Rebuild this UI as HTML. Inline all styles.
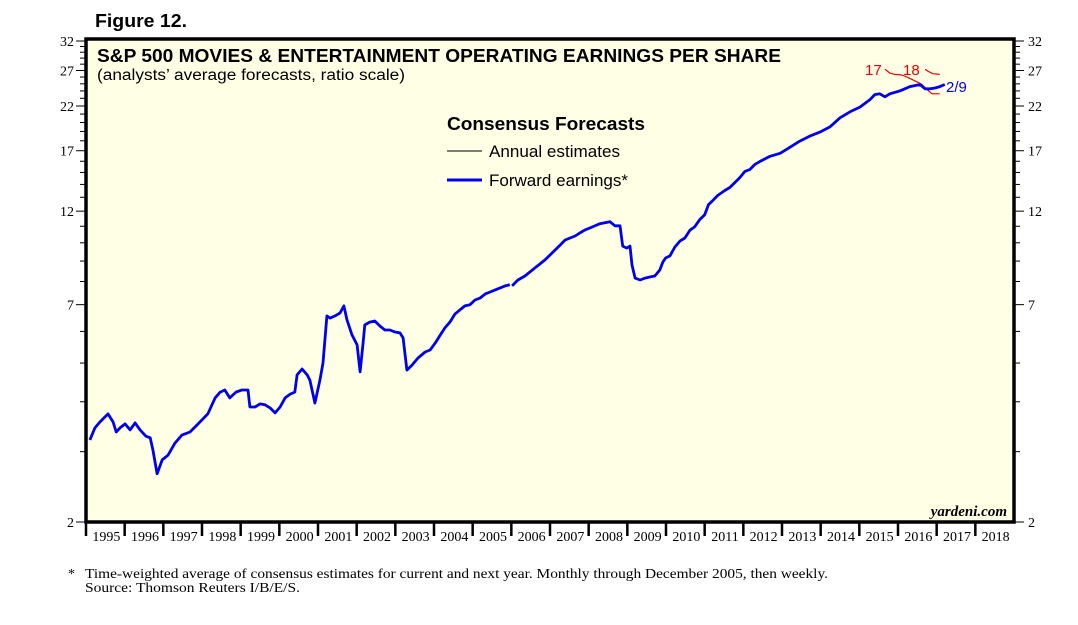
<!DOCTYPE html>
<html><head><meta charset="utf-8"><style>
body{margin:0;background:#fff;width:1078px;height:625px;overflow:hidden}
svg{display:block}
</style></head><body>
<svg id="chart" width="1078" height="625" font-family="Liberation Sans, sans-serif">
<text x="95" y="27" font-size="18" font-weight="bold" textLength="92" lengthAdjust="spacingAndGlyphs">Figure 12.</text>
<rect x="86" y="39" width="928" height="483" fill="#ffffe5"/>
<g id="ticks"></g>
<g id="series"></g>
<rect x="86" y="39" width="928" height="483" fill="none" stroke="#000" stroke-width="3.5"/>
<text x="97" y="62" font-size="18.5" font-weight="bold" textLength="684" lengthAdjust="spacingAndGlyphs">S&amp;P 500 MOVIES &amp; ENTERTAINMENT OPERATING EARNINGS PER SHARE</text>
<text x="97" y="80" font-size="15.5" textLength="308" lengthAdjust="spacingAndGlyphs">(analysts’ average forecasts, ratio scale)</text>
<text x="447" y="130" font-size="18" font-weight="bold" textLength="198" lengthAdjust="spacingAndGlyphs">Consensus Forecasts</text>
<line x1="447" y1="151" x2="482" y2="151" stroke="#000" stroke-width="1"/>
<text x="489" y="157" font-size="16.5" textLength="131" lengthAdjust="spacingAndGlyphs">Annual estimates</text>
<line x1="447" y1="180" x2="482" y2="180" stroke="#0000ee" stroke-width="3"/>
<text x="489" y="186" font-size="16.5" textLength="139" lengthAdjust="spacingAndGlyphs">Forward earnings*</text>
<text x="1007" y="516" font-size="15" font-style="italic" font-weight="bold" font-family="Liberation Serif, serif" text-anchor="end">yardeni.com</text>
<text x="865" y="75" font-size="15" fill="#e00">17</text>
<text x="903" y="75" font-size="15" fill="#e00">18</text>
<text x="946" y="92" font-size="15" fill="#0000ee">2/9</text>
<text x="68" y="578" font-size="14" font-family="Liberation Serif, serif">*</text>
<text x="85" y="578" font-size="14" font-family="Liberation Serif, serif" textLength="743" lengthAdjust="spacingAndGlyphs">Time-weighted average of consensus estimates for current and next year. Monthly through December 2005, then weekly.</text>
<text x="85" y="592" font-size="14" font-family="Liberation Serif, serif" textLength="215" lengthAdjust="spacingAndGlyphs">Source: Thomson Reuters I/B/E/S.</text>
</svg>
<script>
const yTickLabels=[2,7,12,17,22,27,32];
const yearLabels=[1995,1996,1997,1998,1999,2000,2001,2002,2003,2004,2005,2006,2007,2008,2009,2010,2011,2012,2013,2014,2015,2016,2017,2018];
const fwdMonthlyYears=[1995.10,1995.23,1995.36,1995.57,1995.70,1995.78,1995.88,1996.01,1996.14,1996.27,1996.40,1996.55,1996.66,1996.73,1996.84,1996.97,1997.12,1997.30,1997.48,1997.69,1997.90,1998.15,1998.34,1998.47,1998.59,1998.72,1998.88,1999.03,1999.19,1999.24,1999.37,1999.50,1999.63,1999.76,1999.89,2000.02,2000.15,2000.28,2000.40,2000.46,2000.59,2000.72,2000.79,2000.92,2001.05,2001.13,2001.23,2001.31,2001.44,2001.57,2001.67,2001.75,2001.88,2002.01,2002.09,2002.16,2002.21,2002.34,2002.47,2002.60,2002.73,2002.86,2002.99,2003.12,2003.20,2003.30,2003.43,2003.59,2003.77,2003.90,2004.03,2004.15,2004.28,2004.41,2004.54,2004.67,2004.80,2004.93,2005.06,2005.19,2005.32,2005.45,2005.58,2005.71,2005.84,2005.96];
const fwdMonthlyValues=[3.21,3.44,3.56,3.73,3.56,3.36,3.44,3.52,3.40,3.54,3.40,3.28,3.25,3.03,2.64,2.86,2.94,3.15,3.30,3.36,3.52,3.73,4.09,4.23,4.28,4.09,4.23,4.28,4.28,3.88,3.88,3.95,3.93,3.86,3.75,3.88,4.09,4.18,4.23,4.67,4.83,4.67,4.53,3.97,4.53,5.00,6.56,6.48,6.56,6.67,6.95,6.41,5.88,5.55,4.75,5.55,6.23,6.33,6.37,6.19,6.05,6.05,5.98,5.95,5.78,4.80,4.94,5.15,5.33,5.39,5.61,5.85,6.12,6.33,6.63,6.79,6.95,7.00,7.19,7.27,7.44,7.53,7.62,7.71,7.80,7.85];
const fwdWeeklyYears=[2006.02,2006.17,2006.35,2006.48,2006.61,2006.74,2006.87,2007.00,2007.13,2007.26,2007.39,2007.52,2007.65,2007.77,2007.90,2008.03,2008.29,2008.55,2008.68,2008.81,2008.88,2008.99,2009.07,2009.12,2009.20,2009.33,2009.46,2009.58,2009.71,2009.84,2009.92,2009.99,2010.10,2010.23,2010.36,2010.49,2010.62,2010.74,2010.87,2011.00,2011.10,2011.19,2011.34,2011.52,2011.65,2011.78,2011.91,2012.04,2012.17,2012.30,2012.43,2012.69,2012.95,2013.21,2013.46,2013.72,2013.98,2014.24,2014.50,2014.76,2015.02,2015.27,2015.40,2015.53,2015.66,2015.79,2016.05,2016.31,2016.57,2016.70,2016.83,2016.96,2017.08,2017.21];
const fwdWeeklyValues=[7.80,8.07,8.26,8.45,8.65,8.85,9.06,9.32,9.59,9.87,10.16,10.28,10.40,10.58,10.76,10.89,11.16,11.29,11.03,11.03,9.81,9.70,9.81,8.80,8.16,8.07,8.16,8.21,8.26,8.55,8.95,9.16,9.27,9.76,10.10,10.28,10.76,10.96,11.42,11.76,12.46,12.70,13.14,13.52,13.75,14.15,14.57,15.09,15.26,15.71,15.99,16.46,16.75,17.35,17.97,18.50,18.93,19.50,20.55,21.28,21.87,22.8,23.5,23.6,23.2,23.6,24.0,24.6,24.9,24.3,24.3,24.4,24.6,24.9];
const est17Years=[2015.66,2015.79,2015.92,2016.10,2016.31,2016.52,2016.62,2016.75,2016.88,2017.08];
const est17Values=[27.2,26.6,26.4,26.3,25.8,25.2,24.9,24.2,23.6,23.6];
const est18Years=[2016.70,2016.77,2016.90,2017.08];
const est18Values=[27.2,26.9,26.5,26.4];

const L=86,R=1014,T=41,B=522,X0=1995,X1=2019,VMIN=2,VMAX=32;
const xs=t=>L+(t-X0)/(X1-X0)*(R-L);
const ys=v=>B-(Math.log(v)-Math.log(VMIN))/(Math.log(VMAX)-Math.log(VMIN))*(B-T);
const NS='http://www.w3.org/2000/svg';
const tg=document.getElementById('ticks'),sg=document.getElementById('series');
function mk(tag,attrs,parent){const e=document.createElementNS(NS,tag);for(const k in attrs)e.setAttribute(k,attrs[k]);parent.appendChild(e);return e;}
for(let v=VMIN;v<=VMAX;v++){
  const y=ys(v),major=yTickLabels.includes(v);
  const a=mk('line',{x1:major?76:80,x2:L,y1:y,y2:y,stroke:'#000','stroke-width':1},tg);
  
  
  const b=mk('line',{x1:R,x2:major?1024:1020,y1:y,y2:y,stroke:'#000','stroke-width':1},tg);
  
  
}
yTickLabels.forEach(v=>{
  const y=ys(v);
  const a=mk('text',{x:74,y:y+5,'text-anchor':'end','font-size':14,'font-family':'Liberation Serif, serif'},tg);
  a.textContent=v;
  
  
  const b=mk('text',{x:1028,y:y+5,'font-size':14,'font-family':'Liberation Serif, serif'},tg);
  b.textContent=v;
  
  
});
yearLabels.forEach(yr=>{
  const x=xs(yr);
  const t=mk('line',{x1:x,x2:x,y1:B,y2:B+14,stroke:'#000','stroke-width':2.5},tg);
  
  
  const l=mk('text',{x:xs(yr+0.5)+1,y:541,'text-anchor':'middle','font-size':14,'font-family':'Liberation Serif, serif'},tg);
  l.textContent=yr;
  
  
});
function line(xsA,vsA,color,w,name){
  const d=xsA.map((t,i)=>(i?'L':'M')+xs(t).toFixed(1)+','+ys(vsA[i]).toFixed(1)).join(' ');
  const p=mk('path',{d:d,fill:'none',stroke:color,'stroke-width':w,'stroke-linejoin':'round'},sg);
  
  
}
line(est17Years,est17Values,'#e00',1.2,'annual-estimate-2017');
line(est18Years,est18Values,'#e00',1.2,'annual-estimate-2018');
line(fwdMonthlyYears,fwdMonthlyValues,'#0000ee',2.8,'forward-earnings-monthly');
line(fwdWeeklyYears,fwdWeeklyValues,'#0000ee',2.8,'forward-earnings-weekly');
</script>
</body></html>
